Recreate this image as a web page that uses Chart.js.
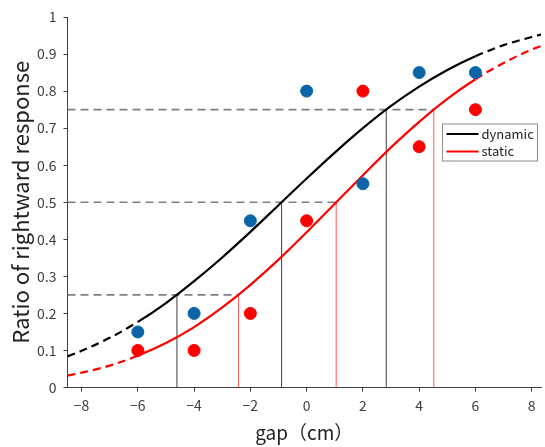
<!DOCTYPE html>
<html>
<head>
<meta charset="utf-8">
<title>gap vs rightward response</title>
<script src="https://cdn.jsdelivr.net/npm/chart.js"></script>
<style>
  html, body { margin: 0; background: #fff; overflow: hidden; }
</style>
</head>
<body>
<canvas id="psyChart" width="548" height="447"></canvas>
<script>
// measured ratios at each gap
const gaps = [-6, -4, -2, 0, 2, 4, 6];
const dynamicRatio = [0.15, 0.2, 0.45, 0.8, 0.55, 0.85, 0.85];
const staticRatio = [0.1, 0.1, 0.2, 0.45, 0.8, 0.65, 0.75];

// fitted psychometric curves, sampled along gap
const curveX = [-8.5, -8, -7, -6, -5, -4, -3, -2, -1, 0, 1, 2, 3, 4, 5, 6, 7, 8, 8.5];
const dynamicFit = [0.084, 0.099, 0.134, 0.177, 0.228, 0.287, 0.351, 0.420, 0.492, 0.564,
                    0.634, 0.700, 0.760, 0.812, 0.857, 0.894, 0.924, 0.946, 0.956];
const staticFit = [0.032, 0.040, 0.059, 0.086, 0.120, 0.163, 0.216, 0.277, 0.345, 0.419,
                   0.496, 0.573, 0.648, 0.717, 0.779, 0.832, 0.876, 0.912, 0.926];

// 25 / 50 / 75 % points on each curve
const levels = [0.25, 0.5, 0.75];
const dynamicCross = [-4.61, -0.89, 2.83];
const staticCross = [-2.42, 1.05, 4.52];

const xTicks = [-8, -6, -4, -2, 0, 2, 4, 6, 8];
const xMin = -8.5, xMax = 8.33;

Chart.defaults.font.family = '"Noto Sans CJK JP", "Noto Sans", sans-serif';
Chart.defaults.color = '#404040';

const pts = (xs, ys) => xs.map((x, i) => ({ x: x, y: ys[i] }));

// dashed outside the tested range
const outside = c => (c.p0.parsed.x < gaps[0] || c.p1.parsed.x > gaps[gaps.length - 1]) ? [8, 5] : undefined;

const curve = (label, data, color) => ({
    label: label,
    data: pts(curveX, data),
    showLine: true,
    borderColor: color,
    borderWidth: 2.2,
    pointRadius: 0,
    cubicInterpolationMode: 'monotone',
    segment: { borderDash: outside },
    showInLegend: true,
    order: 1
});

const dots = (label, data, color) => ({
    label: label,
    data: pts(gaps, data),
    backgroundColor: color,
    borderColor: color,
    pointRadius: 6,
    order: 0
});

const guides = [];
levels.forEach((lv, i) => {
    guides.push({
        label: 'h' + i,
        data: [{ x: xMin, y: lv }, { x: staticCross[i], y: lv }],
        showLine: true, pointRadius: 0,
        borderColor: '#7f7f7f', borderWidth: 1.6, borderDash: [8, 5],
        order: 2
    });
    guides.push({
        label: 'vd' + i,
        data: [{ x: dynamicCross[i], y: 0 }, { x: dynamicCross[i], y: lv }],
        showLine: true, pointRadius: 0,
        borderColor: '#404040', borderWidth: 1,
        order: 2
    });
    guides.push({
        label: 'vs' + i,
        data: [{ x: staticCross[i], y: 0 }, { x: staticCross[i], y: lv }],
        showLine: true, pointRadius: 0,
        borderColor: '#ff5a5a', borderWidth: 1,
        order: 2
    });
});

// boxed legend inside the plot, right side
const boxLegend = {
    id: 'boxLegend',
    afterDatasetsDraw(chart) {
        const { ctx, chartArea } = chart;
        const items = chart.data.datasets.filter(d => d.showInLegend);
        const bx = chartArea.right - 98.5, by = chartArea.top + 107;
        ctx.save();
        ctx.fillStyle = '#fff';
        ctx.fillRect(bx, by, 95, 37);
        ctx.strokeStyle = '#8c8c8c';
        ctx.lineWidth = 1;
        ctx.strokeRect(bx, by, 95, 37);
        ctx.font = '13px "Noto Sans CJK JP", "Noto Sans", sans-serif';
        ctx.textBaseline = 'middle';
        items.forEach((d, i) => {
            const y = by + 10 + i * 17.5;
            ctx.strokeStyle = d.borderColor;
            ctx.lineWidth = 2.2;
            ctx.beginPath();
            ctx.moveTo(bx + 4, y);
            ctx.lineTo(bx + 36, y);
            ctx.stroke();
            ctx.fillStyle = '#222';
            ctx.fillText(d.label, bx + 39, y);
        });
        ctx.restore();
    }
};

new Chart(document.getElementById('psyChart'), {
    type: 'scatter',
    data: {
        datasets: [
            dots('dynamic data', dynamicRatio, '#0a64a8'),
            dots('static data', staticRatio, '#ff0000'),
            curve('dynamic', dynamicFit, '#000000'),
            curve('static', staticFit, '#ff0000'),
            ...guides
        ]
    },
    options: {
        responsive: false,
        animation: false,
        layout: { padding: { top: 17, right: -4, left: 0, bottom: 0 } },
        plugins: {
            legend: { display: false },
            tooltip: { enabled: false }
        },
        scales: {
            x: {
                type: 'linear',
                min: xMin,
                max: xMax,
                afterBuildTicks: s => { s.ticks = xTicks.map(v => ({ value: v })); },
                afterFit: s => { s.height = 59.5; },
                grid: { drawOnChartArea: false, drawTicks: true, tickLength: 4, color: '#404040' },
                border: { color: '#404040', width: 1 },
                ticks: {
                    padding: 6,
                    font: { size: 14 },
                    callback: v => String(v).replace('-', '\u2212')
                },
                title: {
                    display: true,
                    text: 'gap（cm）',
                    color: '#222',
                    font: { size: 19 },
                    padding: { top: 0, bottom: 3 }
                }
            },
            y: {
                min: 0,
                max: 1,
                afterFit: s => { s.width = 67.5; },
                grid: { drawOnChartArea: false, drawTicks: true, tickLength: 4, color: '#404040' },
                border: { color: '#404040', width: 1 },
                ticks: {
                    stepSize: 0.1,
                    padding: 7,
                    font: { size: 14 },
                    callback: v => String(Math.round(v * 10) / 10)
                },
                title: {
                    display: true,
                    text: 'Ratio of rightward response',
                    color: '#222',
                    font: { size: 22 },
                    padding: { top: 7, bottom: 0 }
                }
            }
        }
    },
    plugins: [boxLegend]
});
</script>
</body>
</html>
